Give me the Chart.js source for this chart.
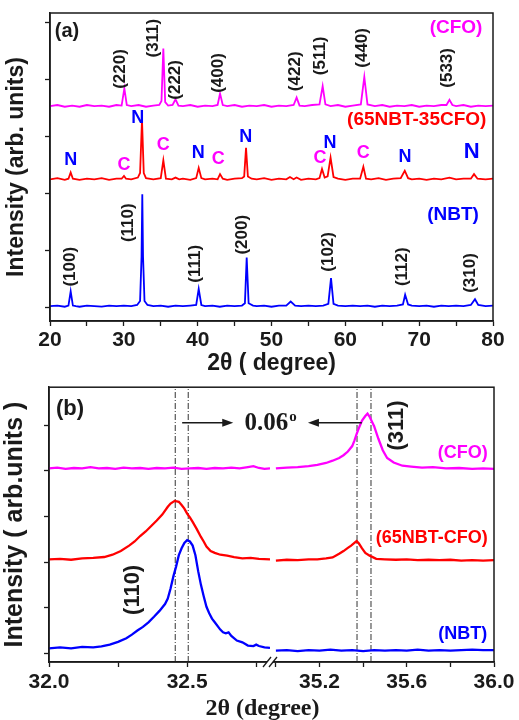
<!DOCTYPE html>
<html lang="en">
<head>
<meta charset="UTF-8">
<title>XRD patterns of NBT, CFO and 65NBT-35CFO</title>
<script src="https://cdn.jsdelivr.net/npm/chart.js"></script>
<style>
  body { margin: 0; background: #fff; }
  canvas { display: block; }
</style>
</head>
<body>
<canvas id="chartA" width="519" height="377"></canvas>
<canvas id="chartB" width="519" height="343"></canvas>
<script>
// ---- panel (a): full patterns, [2theta, offset intensity] ----
const cfoA = [[20,3.53],[21,3.55],[22,3.52],[23,3.54],[24,3.52],[25,3.55],[26,3.53],[27,3.54],[28,3.52],[29,3.55],[29.7,3.54],[30.07,3.84],[30.4,3.55],[31,3.53],[32,3.55],[33,3.52],[34,3.54],[34.8,3.55],[35.1,3.62],[35.35,4.54],[35.6,3.6],[36,3.54],[36.6,3.55],[37.0,3.65],[37.4,3.54],[38,3.53],[39,3.55],[40,3.52],[41,3.54],[42,3.53],[42.7,3.55],[43.03,3.75],[43.4,3.55],[44,3.53],[45,3.55],[46,3.52],[47,3.54],[48,3.53],[49,3.55],[50,3.52],[51,3.54],[52,3.53],[53,3.55],[53.4,3.68],[53.8,3.54],[54.5,3.53],[55.5,3.55],[56.5,3.56],[56.93,3.88],[57.3,3.56],[58,3.53],[59,3.55],[60,3.52],[61,3.54],[62.1,3.56],[62.57,4.04],[63,3.56],[64,3.53],[65,3.55],[66,3.52],[67,3.54],[68,3.53],[69,3.55],[70,3.52],[71,3.54],[72,3.53],[73,3.55],[73.7,3.55],[74.1,3.64],[74.5,3.55],[75,3.53],[76,3.55],[77,3.52],[78,3.54],[79,3.53],[80,3.54]];
const compA = [[20,2.25],[21,2.27],[22,2.24],[22.5,2.26],[22.8,2.37],[23.1,2.26],[24,2.24],[25,2.26],[26,2.25],[27,2.27],[28,2.24],[29,2.26],[29.7,2.26],[30.02,2.31],[30.3,2.26],[31,2.25],[31.9,2.28],[32.2,2.36],[32.46,3.29],[32.7,2.36],[33,2.27],[34,2.25],[35,2.27],[35.35,2.58],[35.7,2.26],[36.5,2.25],[37,2.28],[37.5,2.25],[38,2.26],[39,2.24],[39.8,2.27],[40.14,2.45],[40.5,2.27],[41,2.25],[42,2.26],[42.7,2.25],[43.03,2.34],[43.4,2.26],[44,2.24],[45,2.26],[46,2.27],[46.3,2.3],[46.55,2.8],[46.8,2.3],[47.3,2.26],[48,2.25],[49,2.27],[50,2.24],[51,2.26],[52,2.25],[52.5,2.29],[53,2.25],[53.4,2.28],[54,2.24],[55,2.26],[56,2.25],[56.5,2.27],[56.84,2.43],[57.2,2.28],[57.6,2.3],[58.0,2.63],[58.4,2.29],[59,2.26],[60,2.24],[61,2.26],[62,2.26],[62.44,2.47],[62.8,2.26],[63.5,2.25],[64.5,2.27],[65.5,2.24],[66.5,2.26],[67.5,2.27],[68.05,2.4],[68.5,2.27],[69,2.25],[70,2.26],[71,2.24],[72,2.26],[73,2.25],[74.1,2.28],[75,2.25],[76,2.26],[77,2.26],[77.43,2.34],[77.9,2.26],[79,2.25],[80,2.26]];
const nbtA = [[20,0.03],[21,0.04],[22,0.02],[22.5,0.04],[22.8,0.29],[23.1,0.04],[23.5,0.03],[24,0.02],[25,0.04],[26,0.03],[27,0.02],[28,0.04],[29,0.03],[30,0.04],[31,0.03],[31.8,0.05],[32.2,0.12],[32.4,0.9],[32.5,1.99],[32.6,0.9],[32.8,0.12],[33.2,0.05],[34,0.03],[35,0.04],[36,0.02],[37,0.04],[38,0.03],[39,0.04],[39.8,0.05],[40.14,0.33],[40.5,0.05],[41,0.03],[42,0.04],[43,0.02],[44,0.04],[45,0.03],[46,0.04],[46.4,0.08],[46.64,0.88],[46.9,0.08],[47.5,0.04],[48,0.03],[49,0.04],[50,0.02],[51,0.04],[52,0.04],[52.6,0.11],[53.2,0.04],[54,0.03],[55,0.04],[56,0.03],[57,0.04],[57.7,0.07],[58.06,0.52],[58.4,0.07],[59,0.04],[60,0.03],[61,0.04],[62,0.03],[63,0.04],[64,0.02],[65,0.04],[66,0.03],[67,0.04],[67.8,0.06],[68.1,0.23],[68.5,0.06],[69,0.04],[70,0.03],[71,0.04],[72,0.02],[73,0.04],[74,0.03],[75,0.04],[76,0.03],[77,0.05],[77.56,0.15],[78,0.05],[79,0.03],[80,0.04]];

// ---- panel (b): zoom on (110) / (311), broken axis 32.0-32.8 | 35.0-36.0 ----
const cfoB_L = [[32.00,4.05],[32.03,4.07],[32.06,4.04],[32.09,4.06],[32.12,4.05],[32.15,4.08],[32.18,4.05],[32.21,4.06],[32.24,4.04],[32.27,4.07],[32.30,4.05],[32.33,4.06],[32.36,4.04],[32.39,4.06],[32.42,4.05],[32.45,4.07],[32.48,4.04],[32.51,4.05],[32.54,4.06],[32.57,4.04],[32.60,4.06],[32.63,4.05],[32.66,4.07],[32.69,4.05],[32.72,4.08],[32.74,4.1],[32.76,4.06],[32.78,4.04],[32.80,4.05]];
const compB_L = [[32.00,2.06],[32.04,2.07],[32.08,2.05],[32.12,2.08],[32.16,2.09],[32.20,2.11],[32.23,2.16],[32.26,2.24],[32.29,2.36],[32.31,2.45],[32.33,2.57],[32.35,2.67],[32.37,2.79],[32.39,2.91],[32.41,3.04],[32.43,3.21],[32.44,3.28],[32.455,3.34],[32.47,3.32],[32.48,3.25],[32.49,3.17],[32.50,3.06],[32.51,2.98],[32.52,2.88],[32.535,2.72],[32.55,2.55],[32.56,2.45],[32.57,2.34],[32.585,2.24],[32.60,2.2],[32.62,2.16],[32.645,2.14],[32.67,2.11],[32.70,2.08],[32.73,2.09],[32.76,2.07],[32.80,2.06]];
const nbtB_L = [[32.00,0.11],[32.04,0.13],[32.08,0.11],[32.12,0.14],[32.16,0.13],[32.19,0.15],[32.22,0.19],[32.25,0.25],[32.28,0.33],[32.30,0.41],[32.32,0.5],[32.34,0.58],[32.36,0.68],[32.38,0.8],[32.40,0.93],[32.42,1.08],[32.43,1.2],[32.44,1.42],[32.45,1.68],[32.46,1.9],[32.47,2.15],[32.48,2.3],[32.49,2.42],[32.50,2.48],[32.51,2.45],[32.52,2.36],[32.53,2.15],[32.54,1.8],[32.55,1.5],[32.56,1.25],[32.57,1.02],[32.58,0.88],[32.59,0.76],[32.60,0.68],[32.62,0.52],[32.63,0.46],[32.64,0.44],[32.65,0.46],[32.66,0.38],[32.68,0.28],[32.70,0.24],[32.72,0.17],[32.74,0.16],[32.75,0.19],[32.76,0.16],[32.78,0.13],[32.80,0.12]];
const cfoB_R = [[35.00,4.05],[35.05,4.07],[35.10,4.08],[35.15,4.1],[35.19,4.13],[35.23,4.17],[35.26,4.22],[35.29,4.28],[35.31,4.34],[35.33,4.42],[35.35,4.54],[35.36,4.66],[35.37,4.8],[35.38,4.93],[35.395,5.1],[35.41,5.2],[35.42,5.25],[35.43,5.18],[35.44,5.08],[35.45,4.98],[35.47,4.7],[35.49,4.45],[35.51,4.28],[35.54,4.18],[35.58,4.11],[35.62,4.09],[35.67,4.07],[35.72,4.08],[35.78,4.05],[35.84,4.06],[35.90,4.04],[35.95,4.05],[36.00,4.04]];
const compB_R = [[35.00,2.03],[35.05,2.05],[35.10,2.04],[35.15,2.06],[35.19,2.06],[35.23,2.08],[35.26,2.1],[35.29,2.18],[35.31,2.24],[35.33,2.31],[35.345,2.36],[35.36,2.42],[35.37,2.46],[35.38,2.41],[35.395,2.3],[35.41,2.2],[35.43,2.14],[35.46,2.07],[35.50,2.06],[35.55,2.05],[35.60,2.06],[35.65,2.04],[35.70,2.05],[35.75,2.04],[35.80,2.05],[35.85,2.03],[35.90,2.04],[35.95,2.03],[36.00,2.04]];
const nbtB_R = [[35.00,0.06],[35.05,0.07],[35.10,0.05],[35.15,0.07],[35.20,0.06],[35.25,0.08],[35.30,0.06],[35.35,0.07],[35.40,0.05],[35.45,0.07],[35.50,0.06],[35.55,0.07],[35.60,0.06],[35.65,0.08],[35.70,0.06],[35.75,0.07],[35.80,0.06],[35.85,0.07],[35.90,0.08],[35.95,0.07],[36.00,0.07]];
// dash-dot markers of the peak positions (shift of 0.06 deg)
const peakLinesL = [32.457, 32.504];
const peakLinesR = [35.372, 35.436];

const sans = "'Liberation Sans', Arial, sans-serif";
const serif = "'Liberation Serif', 'Times New Roman', serif";
const MAG = '#ff00ff', RED = '#ff0000', BLUE = '#0000ff', INK = '#1a1a1a';

const toXY = arr => arr.map(([x, y]) => ({x, y}));

function trace(data, color, width, xAxisID) {
    return {
        data: toXY(data), borderColor: color, borderWidth: width,
        pointRadius: 0, tension: 0, fill: false, xAxisID: xAxisID
    };
}

function notesPlugin(notes) {
    return {
        id: 'notes',
        afterDatasetsDraw(chart) {
            const ctx = chart.ctx, yS = chart.scales.y;
            for (const n of notes) {
                const px = chart.scales[n.ax].getPixelForValue(n.x);
                const py = yS.getPixelForValue(n.y);
                ctx.save();
                ctx.translate(px, py);
                if (n.rot) ctx.rotate(-Math.PI / 2);
                ctx.font = `bold ${n.size}px ${sans}`;
                ctx.fillStyle = n.color || INK;
                ctx.textAlign = 'center';
                ctx.textBaseline = 'middle';
                ctx.fillText(n.t, 0, 0);
                ctx.restore();
            }
        }
    };
}

const framePlugin = {
    id: 'frame',
    afterDraw(chart) {
        const {ctx, chartArea: a} = chart;
        ctx.save();
        ctx.strokeStyle = INK;
        ctx.lineWidth = 1.5;
        ctx.strokeRect(a.left, a.top, a.right - a.left, a.bottom - a.top);
        ctx.restore();
    }
};

function axisBase(extra) {
    return Object.assign({
        type: 'linear',
        grid: { drawOnChartArea: false, drawTicks: true, tickLength: 5, color: INK, tickWidth: 1.3 },
        border: { display: true, color: INK, width: 1.5 }
    }, extra);
}

// ---------------- chart (a) ----------------
const notesA = [
    {t: '(a)', ax: 'x', x: 22.3, y: 4.83, size: 20},
    {t: '(220)', ax: 'x', x: 29.48, y: 4.18, size: 17, rot: true},
    {t: '(311)', ax: 'x', x: 33.95, y: 4.72, size: 17, rot: true},
    {t: '(222)', ax: 'x', x: 36.93, y: 3.99, size: 17, rot: true},
    {t: '(400)', ax: 'x', x: 42.75, y: 4.11, size: 17, rot: true},
    {t: '(422)', ax: 'x', x: 53.18, y: 4.14, size: 17, rot: true},
    {t: '(511)', ax: 'x', x: 56.57, y: 4.41, size: 17, rot: true},
    {t: '(440)', ax: 'x', x: 62.26, y: 4.55, size: 17, rot: true},
    {t: '(533)', ax: 'x', x: 73.77, y: 4.2, size: 17, rot: true},
    {t: '(100)', ax: 'x', x: 22.71, y: 0.72, size: 17, rot: true},
    {t: '(110)', ax: 'x', x: 30.56, y: 1.49, size: 17, rot: true},
    {t: '(111)', ax: 'x', x: 39.64, y: 0.77, size: 17, rot: true},
    {t: '(200)', ax: 'x', x: 46.0, y: 1.28, size: 17, rot: true},
    {t: '(102)', ax: 'x', x: 57.65, y: 0.98, size: 17, rot: true},
    {t: '(112)', ax: 'x', x: 67.68, y: 0.72, size: 17, rot: true},
    {t: '(310)', ax: 'x', x: 76.89, y: 0.61, size: 17, rot: true},
    {t: 'N', ax: 'x', x: 22.8, y: 2.59, size: 18, color: BLUE},
    {t: 'C', ax: 'x', x: 30.02, y: 2.5, size: 18, color: MAG},
    {t: 'N', ax: 'x', x: 31.88, y: 3.32, size: 18, color: BLUE},
    {t: 'C', ax: 'x', x: 35.35, y: 2.85, size: 18, color: MAG},
    {t: 'N', ax: 'x', x: 40.09, y: 2.71, size: 18, color: BLUE},
    {t: 'C', ax: 'x', x: 42.8, y: 2.6, size: 18, color: MAG},
    {t: 'N', ax: 'x', x: 46.5, y: 2.99, size: 18, color: BLUE},
    {t: 'C', ax: 'x', x: 56.57, y: 2.62, size: 18, color: MAG},
    {t: 'N', ax: 'x', x: 57.92, y: 2.88, size: 18, color: BLUE},
    {t: 'C', ax: 'x', x: 62.44, y: 2.71, size: 18, color: MAG},
    {t: 'N', ax: 'x', x: 68.08, y: 2.64, size: 18, color: BLUE},
    {t: 'N', ax: 'x', x: 77.12, y: 2.73, size: 22, color: BLUE},
    {t: '(CFO)', ax: 'x', x: 74.99, y: 4.91, size: 19, color: MAG},
    {t: '(65NBT-35CFO)', ax: 'x', x: 69.67, y: 3.29, size: 19, color: RED},
    {t: '(NBT)', ax: 'x', x: 74.59, y: 1.63, size: 19, color: BLUE}
];

new Chart(document.getElementById('chartA'), {
    type: 'line',
    data: {
        datasets: [
            trace(cfoA, MAG, 1.8, 'x'),
            trace(compA, RED, 1.8, 'x'),
            trace(nbtA, BLUE, 1.8, 'x')
        ]
    },
    options: {
        responsive: false, animation: false, devicePixelRatio: 1,
        layout: { padding: { left: 0, right: 26, top: 13, bottom: 0 } },
        plugins: { legend: { display: false }, tooltip: { enabled: false } },
        scales: {
            x: axisBase({
                min: 20, max: 80,
                ticks: {
                    stepSize: 5, includeBounds: false, autoSkip: false, maxRotation: 0, padding: 2,
                    color: INK, font: { family: sans, size: 21, weight: 'bold' },
                    callback: v => (v % 10 === 0 ? String(v) : '')
                },
                title: { display: true, text: '2θ ( degree)', color: INK, padding: 0,
                         font: { family: sans, size: 23, weight: 'bold' } },
                afterFit: s => { s.height = 56; }
            }),
            y: axisBase({
                min: -0.23, max: 5.16,
                ticks: { stepSize: 1, includeBounds: false, callback: () => '' },
                title: { display: true, text: 'Intensity (arb. units)', color: INK,
                         padding: { top: 3, bottom: 0 },
                         font: { family: sans, size: 23, weight: 'bold' } },
                afterFit: s => { s.width = 50; }
            })
        }
    },
    plugins: [notesPlugin(notesA), framePlugin]
});

// ---------------- chart (b) ----------------
const notesB = [
    {t: '(b)', ax: 'xL', x: 32.076, y: 5.35, size: 22},
    {t: '(311)', ax: 'xR', x: 35.555, y: 4.99, size: 22, rot: true},
    {t: '(110)', ax: 'xL', x: 32.304, y: 1.39, size: 22, rot: true},
    {t: '(CFO)', ax: 'xR', x: 35.857, y: 4.39, size: 18, color: MAG},
    {t: '(65NBT-CFO)', ax: 'xR', x: 35.715, y: 2.53, size: 18, color: RED},
    {t: '(NBT)', ax: 'xR', x: 35.857, y: 0.43, size: 18, color: BLUE}
];
// arrows around the 0.06 deg shift text
const shiftArrows = [
    {ax: 'xL', from: 32.482, to: 32.667, y: 5.05},
    {ax: 'xR', from: 35.394, to: 35.147, y: 5.05}
];

function arrowHead(ctx, x, y, dir) {
    ctx.beginPath();
    ctx.moveTo(x, y);
    ctx.lineTo(x - dir * 11, y - 4);
    ctx.lineTo(x - dir * 11, y + 4);
    ctx.closePath();
    ctx.fill();
}

const extrasB = {
    id: 'extrasB',
    afterDraw(chart) {
        const ctx = chart.ctx, yS = chart.scales.y, a = chart.chartArea;
        ctx.save();
        ctx.strokeStyle = INK; ctx.fillStyle = INK; ctx.lineWidth = 1.4;
        shiftArrows.forEach(ar => {
            const s = chart.scales[ar.ax];
            const x1 = s.getPixelForValue(ar.from), x2 = s.getPixelForValue(ar.to);
            const y = yS.getPixelForValue(ar.y);
            const dir = Math.sign(x2 - x1);
            ctx.beginPath(); ctx.moveTo(x1, y); ctx.lineTo(x2 - dir * 8, y); ctx.stroke();
            arrowHead(ctx, x2, y, dir);
        });
        // 0.06 degree text
        const cx = chart.scales.xL.right, cy = yS.getPixelForValue(5.05);
        ctx.font = `bold 25px ${serif}`;
        const w1 = ctx.measureText('0.06').width;
        ctx.font = `bold 15px ${serif}`;
        const w2 = ctx.measureText('o').width;
        const x0 = cx - (w1 + w2) / 2;
        ctx.textBaseline = 'middle'; ctx.textAlign = 'left';
        ctx.font = `bold 25px ${serif}`;
        ctx.fillText('0.06', x0, cy + 1);
        ctx.font = `bold 15px ${serif}`;
        ctx.fillText('o', x0 + w1 + 1, cy - 6);
        // axis break marks
        const bx = chart.scales.xL.right, by = a.bottom;
        ctx.fillStyle = '#fff';
        ctx.fillRect(bx - 3, by - 2, 6, 4);
        ctx.lineWidth = 1.3;
        [-3, 3].forEach(d => {
            ctx.beginPath();
            ctx.moveTo(bx + d - 4, by + 5);
            ctx.lineTo(bx + d + 4, by - 5);
            ctx.stroke();
        });
        // x title across both segments
        ctx.fillStyle = INK;
        ctx.font = `bold 24px ${serif}`;
        ctx.textAlign = 'center'; ctx.textBaseline = 'middle';
        ctx.fillText('2θ (degree)', (a.left + a.right) / 2 - 9, chart.height - 11);
        ctx.restore();
    }
};

function peakLine(x, axisId) {
    return {
        data: [{x, y: -0.19}, {x, y: 5.83}], borderColor: '#333', borderWidth: 1,
        borderDash: [6, 2, 1, 2], pointRadius: 0, xAxisID: axisId
    };
}

const yMinB = -0.19, yMaxB = 5.83;
new Chart(document.getElementById('chartB'), {
    type: 'line',
    data: {
        datasets: [
            trace(cfoB_L, MAG, 2.3, 'xL'),
            trace(compB_L, RED, 2.3, 'xL'),
            trace(nbtB_L, BLUE, 2.3, 'xL'),
            trace(cfoB_R, MAG, 2.3, 'xR'),
            trace(compB_R, RED, 2.3, 'xR'),
            trace(nbtB_R, BLUE, 2.3, 'xR'),
            ...peakLinesL.map(v => peakLine(v, 'xL')),
            ...peakLinesR.map(v => peakLine(v, 'xR'))
        ]
    },
    options: {
        responsive: false, animation: false, devicePixelRatio: 1,
        layout: { padding: { left: 0, right: 25, top: 4, bottom: 0 } },
        plugins: { legend: { display: false }, tooltip: { enabled: false } },
        scales: {
            xL: axisBase({
                position: 'bottom', stack: 'twoTheta', stackWeight: 221,
                min: 32, max: 32.8,
                ticks: {
                    stepSize: 0.25, includeBounds: false, autoSkip: false, maxRotation: 0, padding: 3,
                    color: INK, font: { family: sans, size: 21, weight: 'bold' },
                    callback: v => (Math.abs(v * 2 - Math.round(v * 2)) < 1e-6 ? v.toFixed(1) : '')
                },
                afterFit: s => { s.height = 58; }
            }),
            xR: axisBase({
                position: 'bottom', stack: 'twoTheta', stackWeight: 224,
                min: 34.973, max: 36,
                ticks: {
                    stepSize: 0.2, includeBounds: false, autoSkip: false, maxRotation: 0, padding: 3,
                    color: INK, font: { family: sans, size: 21, weight: 'bold' },
                    callback: v => {
                        const k = (v - 35.2) / 0.4;
                        return Math.abs(k - Math.round(k)) < 1e-6 ? v.toFixed(1) : '';
                    }
                },
                afterFit: s => { s.height = 58; }
            }),
            y: axisBase({
                min: yMinB, max: yMaxB,
                ticks: { stepSize: 1, includeBounds: false, callback: () => '' },
                title: { display: true, text: 'Intensity ( arb.units )', color: INK,
                         padding: { top: 0, bottom: 0 },
                         font: { family: sans, size: 25, weight: 'bold' } },
                afterFit: s => { s.width = 49; }
            })
        }
    },
    plugins: [notesPlugin(notesB), framePlugin, extrasB]
});
</script>
</body>
</html>
